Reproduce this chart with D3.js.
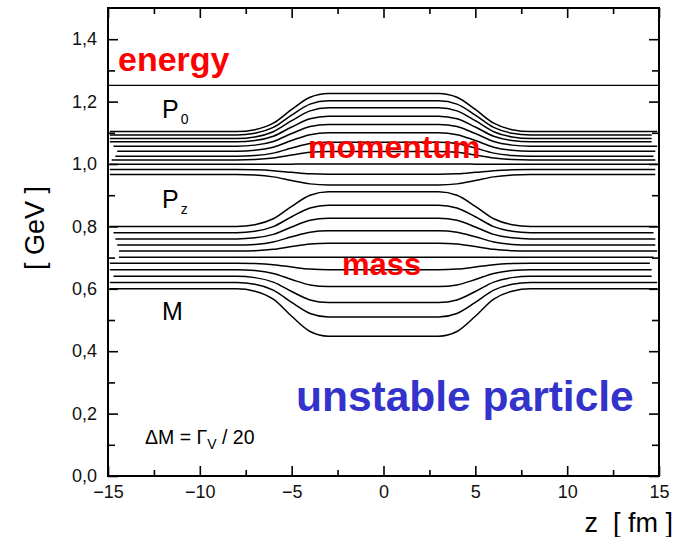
<!DOCTYPE html>
<html><head><meta charset="utf-8">
<script src="https://cdn.jsdelivr.net/npm/d3@7"></script>
<style>
html,body{margin:0;padding:0;background:#fff;}
svg{display:block;font-family:"Liberation Sans",Arial,Helvetica,sans-serif;}
</style></head>
<body>
<svg id="chart" width="683" height="537"></svg>
<script>
// ---- data ----
const xMajorTicks = [-15, -10, -5, 0, 5, 10, 15];
const xMinorTicks = [-12.5, -7.5, -2.5, 2.5, 7.5, 12.5];
const yMajorTicks = [0, 0.2, 0.4, 0.6, 0.8, 1.0, 1.2, 1.4];
const yMinorTicks = [0.1, 0.3, 0.5, 0.7, 0.9, 1.1, 1.3];

// shared transition profile (fraction of the way from outer to inner value) vs z [fm]
const profileZ    = [-15, -8, -7, -6, -5, -4, -3, 3, 4, 5, 6, 7, 8, 15];
const profileFrac = [0, 0, 0.05, 0.22, 0.58, 0.9, 1, 1, 0.9, 0.58, 0.22, 0.05, 0, 0];

const energyValue = 1.252;

// P0 curves: value outside (|z|>8) and inside (|z|<3)
const p0Outer = [1.104, 1.093, 1.082, 1.071, 1.057, 1.041, 1.025, 1.013, 0.999, 0.982, 0.966];
const p0Inner = [1.226, 1.203, 1.180, 1.153, 1.127, 1.100, 1.070, 1.040, 1.000, 0.967, 0.933];
const p0Start = [-14.9, -14.9, -14.9, -14.9, -14.7, -14.5, -14.6, -14.8, -14.9, -14.9, -14.9];
const p0End   = [14.9, 14.6, 14.6, 14.6, 14.9, 14.8, 14.7, 14.8, 14.9, 14.8, 14.8];

// Pz / M curves
const pmOuter = [0.800, 0.780, 0.760, 0.740, 0.721, 0.701, 0.682, 0.661, 0.640, 0.620, 0.600];
const pmInner = [0.911, 0.868, 0.826, 0.786, 0.746, 0.701, 0.661, 0.607, 0.556, 0.510, 0.448];
const pmStart = [-14.9, -14.7, -14.6, -14.5, -14.4, -14.4, -14.9, -14.9, -14.7, -14.9, -14.9];
const pmEnd   = [14.9, 14.7, 14.8, 14.8, 14.9, 14.7, 14.5, 14.6, 14.6, 14.9, 14.9];

// ---- layout ----
const svg = d3.select("#chart");
const L = 108, R = 659, T = 8, B = 476;
const x = d3.scaleLinear().domain([-15, 15]).range([L, R]);
const y = d3.scaleLinear().domain([0, 1.5]).range([B, T]);

function curvePoints(outer, inner, z0, z1) {
  const pts = [];
  profileZ.forEach((z, i) => {
    const zz = i === 0 ? z0 : (i === profileZ.length - 1 ? z1 : z);
    pts.push([zz, outer + (inner - outer) * profileFrac[i]]);
  });
  return pts;
}
const line = d3.line().x(d => x(d[0])).y(d => y(d[1])).curve(d3.curveMonotoneX);

const g = svg.append("g");
// energy line
g.append("path").datum([[-15, energyValue], [15, energyValue]])
  .attr("d", line).attr("fill", "none").attr("stroke", "#000").attr("stroke-width", 1.4);

p0Outer.forEach((o, i) => {
  g.append("path").datum(curvePoints(o, p0Inner[i], p0Start[i], p0End[i]))
    .attr("d", line).attr("fill", "none").attr("stroke", "#000").attr("stroke-width", 1.5);
});
pmOuter.forEach((o, i) => {
  g.append("path").datum(curvePoints(o, pmInner[i], pmStart[i], pmEnd[i]))
    .attr("d", line).attr("fill", "none").attr("stroke", "#000").attr("stroke-width", 1.5);
});

// ---- axes (ticks inside the frame) ----
const fmt = d => d3.format(".1f")(d).replace(".", ",");
const tickFont = "18px";
function styleAxis(sel) {
  sel.select(".domain").remove();
  sel.selectAll(".tick line").attr("stroke", "#000").attr("stroke-width", 1.6);
  sel.selectAll("text").attr("font-size", tickFont).attr("fill", "#111")
    .attr("font-family", "Liberation Sans, Arial, sans-serif");
}
svg.append("g").attr("transform", `translate(0,${B})`)
  .call(d3.axisBottom(x).tickValues(xMajorTicks).tickSize(-10).tickPadding(9).tickFormat(d3.format("d")))
  .call(styleAxis);
svg.append("g").attr("transform", `translate(0,${B})`)
  .call(d3.axisBottom(x).tickValues(xMinorTicks).tickSize(-6).tickFormat(""))
  .call(styleAxis);
svg.append("g").attr("transform", `translate(0,${T})`)
  .call(d3.axisTop(x).tickValues(xMajorTicks).tickSize(-10).tickFormat(""))
  .call(styleAxis);
svg.append("g").attr("transform", `translate(0,${T})`)
  .call(d3.axisTop(x).tickValues(xMinorTicks).tickSize(-6).tickFormat(""))
  .call(styleAxis);
svg.append("g").attr("transform", `translate(${L},0)`)
  .call(d3.axisLeft(y).tickValues(yMajorTicks).tickSize(-10).tickPadding(11).tickFormat(fmt))
  .call(styleAxis);
svg.append("g").attr("transform", `translate(${L},0)`)
  .call(d3.axisLeft(y).tickValues(yMinorTicks).tickSize(-7).tickFormat(""))
  .call(styleAxis);
svg.append("g").attr("transform", `translate(${R},0)`)
  .call(d3.axisRight(y).tickValues(yMajorTicks).tickSize(-10).tickFormat(""))
  .call(styleAxis);
svg.append("g").attr("transform", `translate(${R},0)`)
  .call(d3.axisRight(y).tickValues(yMinorTicks).tickSize(-7).tickFormat(""))
  .call(styleAxis);

// frame
svg.append("rect").attr("x", L).attr("y", T).attr("width", R - L).attr("height", B - T)
  .attr("fill", "none").attr("stroke", "#000").attr("stroke-width", 2);

// ---- labels ----
const red = "#ff0000";
svg.append("text").attr("x", 118).attr("y", 71).attr("font-size", 34).attr("font-weight", "bold")
  .attr("fill", red).text("energy");
svg.append("text").attr("x", 308).attr("y", 158).attr("font-size", 32).attr("font-weight", "bold")
  .attr("fill", red).text("momentum");
svg.append("text").attr("x", 342).attr("y", 275).attr("font-size", 31).attr("font-weight", "bold")
  .attr("fill", red).text("mass");

function sublabel(xp, yp, main, sub) {
  const t = svg.append("text").attr("x", xp).attr("y", yp).attr("font-size", 25).attr("fill", "#000");
  t.append("tspan").text(main);
  if (sub) t.append("tspan").attr("dx", 2).attr("dy", 6).attr("font-size", 14).text(sub);
}
sublabel(162, 118, "P", "0");
sublabel(162, 208, "P", "z");
sublabel(162, 320, "M", null);

svg.append("text").attr("x", 296).attr("y", 411).attr("font-size", 42.5).attr("font-weight", "bold")
  .attr("fill", "#3333cc").text("unstable particle");

const dm = svg.append("text").attr("x", 145).attr("y", 444).attr("font-size", 19.5).attr("fill", "#000");
dm.append("tspan").text("\u0394M = \u0393");
dm.append("tspan").attr("dy", 5).attr("font-size", 14).text("V");
dm.append("tspan").attr("dy", -5).style("white-space", "pre").text(" / 20");

svg.append("text").attr("transform", "translate(44,228) rotate(-90)")
  .attr("text-anchor", "middle").attr("font-size", 27).attr("fill", "#000")
  .style("white-space", "pre").text("[ GeV ]");
svg.append("text").attr("x", 673).attr("y", 532).attr("text-anchor", "end")
  .attr("font-size", 27).attr("fill", "#000").style("white-space", "pre").text("z  [ fm ]");
</script>
</body></html>
